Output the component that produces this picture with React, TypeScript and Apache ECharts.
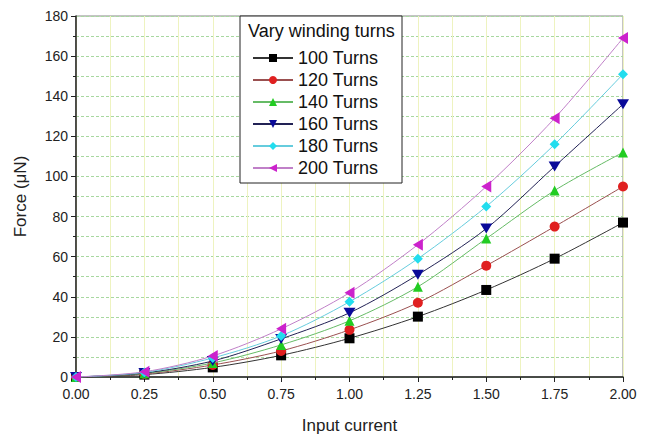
import React, { useEffect, useRef } from "react";
import * as echarts from "echarts";

const currents = [0, 0.25, 0.5, 0.75, 1.0, 1.25, 1.5, 1.75, 2.0];
const seriesNames = ["100 Turns", "120 Turns", "140 Turns", "160 Turns", "180 Turns", "200 Turns"];
const turns100 = [0, 1.2, 4.8, 10.8, 19.3, 30.1, 43.4, 59, 77];
const turns120 = [0, 1.5, 6, 13, 23.5, 37, 55.5, 75, 95];
const turns140 = [0, 1.8, 7, 16, 28, 45, 69, 93, 112];
const turns160 = [0, 2, 8, 19, 32, 51, 74, 105, 136];
const turns180 = [0, 2.3, 9.5, 20.5, 37.5, 59, 85, 116, 151];
const turns200 = [0, 2.6, 10.5, 24, 42, 66, 95, 129, 169];
const allValues = [turns100, turns120, turns140, turns160, turns180, turns200];
const markerColors = ["#000000", "#e02020", "#22cc22", "#0a0a99", "#22ddee", "#cc22cc"];
const lineColors = ["#333333", "#9a5050", "#66bb66", "#222255", "#66ccdd", "#c080c8"];
const symbols = ["rect", "circle", "triangle", "path://M0,0 L10,0 L5,9 Z", "diamond", "path://M10,0 L10,10 L0,5 Z"];

export default function App() {
  const ref = useRef<HTMLDivElement>(null);
  useEffect(() => {
    document.body.style.margin = "0";
    const chart = echarts.init(ref.current!, null, { renderer: "svg" });
    const font = "Liberation Sans, Arial, sans-serif";
    chart.setOption({
      animation: false,
      backgroundColor: "#ffffff",
      grid: { left: 76, right: 24, top: 16, bottom: 61, show: true, borderColor: "#888", borderWidth: 1 },
      xAxis: {
        type: "value",
        min: 0,
        max: 2,
        interval: 0.25,
        name: "Input current",
        nameLocation: "middle",
        nameGap: 40,
        nameTextStyle: { fontFamily: font, fontSize: 17, color: "#222" },
        axisLine: { show: true, lineStyle: { color: "#222", width: 1.5 } },
        axisTick: { show: true, inside: false, length: 5, lineStyle: { color: "#222" } },
        minorTick: { show: true, splitNumber: 2, length: 3, lineStyle: { color: "#222" } },
        axisLabel: { fontFamily: font, fontSize: 14, color: "#222", margin: 10, formatter: (v: number) => v.toFixed(2) },
        splitLine: { show: true, lineStyle: { color: "#eef3c0", width: 1 } },
        minorSplitLine: { show: true, lineStyle: { color: "#eef3c0", width: 1 } },
      },
      yAxis: {
        type: "value",
        min: 0,
        max: 180,
        interval: 20,
        name: "Force (μN)",
        nameLocation: "middle",
        nameGap: 47,
        nameTextStyle: { fontFamily: font, fontSize: 17, color: "#222" },
        axisLine: { show: true, lineStyle: { color: "#222", width: 1.5 } },
        axisTick: { show: true, inside: false, length: 5, lineStyle: { color: "#222" } },
        minorTick: { show: true, splitNumber: 2, length: 3, lineStyle: { color: "#222" } },
        axisLabel: { fontFamily: font, fontSize: 14, color: "#222", margin: 8 },
        splitLine: { show: true, lineStyle: { color: "#a8d8a0", type: [3, 2], width: 1 } },
        minorSplitLine: { show: true, lineStyle: { color: "#a8d8a0", type: [3, 2], width: 1 } },
      },
      legend: {
        orient: "vertical",
        left: 247,
        top: 44,
        itemWidth: 40,
        itemHeight: 10,
        itemGap: 4,
        textStyle: { fontFamily: font, fontSize: 18, color: "#111" },
        data: seriesNames,
      },
      graphic: [
        { type: "rect", shape: { x: 240, y: 16, width: 162, height: 167 }, style: { fill: "#fff", stroke: "#222", lineWidth: 1 }, z: 4 },
        { type: "text", x: 248, y: 22, style: { text: "Vary winding turns", fontFamily: font, fontSize: 18, fill: "#111" }, z: 5 },
      ],
      series: seriesNames.map((name, i) => ({
        name,
        type: "line",
        data: currents.map((c, j) => [c, allValues[i][j]]),
        smooth: 0.3,
        symbol: symbols[i],
        symbolSize: i === 5 ? [10, 12] : i === 3 ? [12, 10] : 10,
        itemStyle: { color: markerColors[i] },
        lineStyle: { color: lineColors[i], width: 1 },
        z: 3 + i,
      })),
    });
    return () => chart.dispose();
  }, []);
  return <div ref={ref} style={{ width: 647, height: 439 }} />;
}
